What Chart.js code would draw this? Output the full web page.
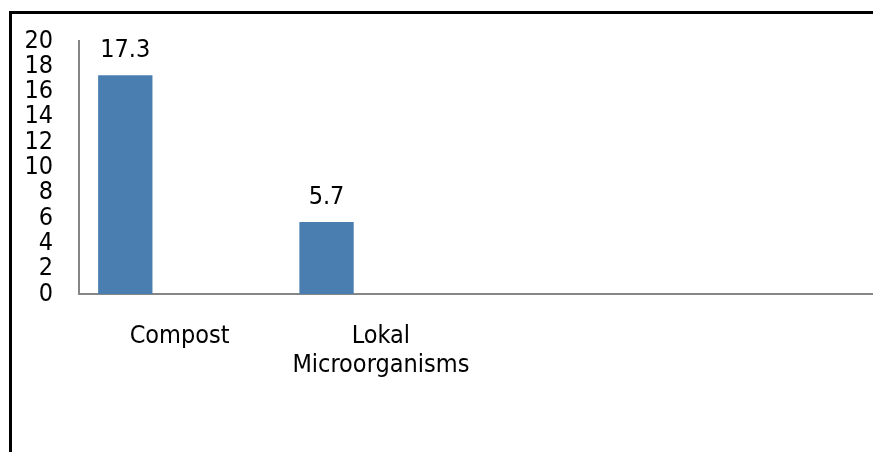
<!DOCTYPE html>
<html>
<head>
<meta charset="utf-8">
<script src="https://cdn.jsdelivr.net/npm/chart.js@4/dist/chart.umd.min.js"></script>
<style>
  html, body { margin: 0; padding: 0; background: #fff; overflow: hidden; width: 873px; height: 452px; }
  #frame { position: absolute; left: 9px; top: 11px; width: 1000px; height: 1000px;
           border-left: 3px solid #000; border-top: 3px solid #000; box-sizing: border-box; }
  #wrap { position: absolute; left: 0; top: 0; width: 884px; height: 452px; }
</style>
</head>
<body>
<div id="frame"></div>
<div id="wrap"><canvas id="chart" width="884" height="452"></canvas></div>
<script>
// Categories along the x axis (multi-line label as an array)
const categories = ["Compost", ["Lokal", "Microorganisms"], "", ""];
// Three series per category; only the first one carries values
const seriesA = [17.3, 5.7, null, null];
const seriesB = [null, null, null, null];
const seriesC = [null, null, null, null];
// Y axis range
const yMin = 0;
const yMax = 20;
const yStep = 2;

const FONT = "'DejaVu Sans Condensed', 'DejaVu Sans', sans-serif";
const FONT_SIZE = 25;
const BAR_COLOR = "#4A7EB1";
const AXIS_COLOR = "#868686";

// Writes each bar's value above it
const valueLabels = {
  id: "valueLabels",
  afterDatasetsDraw(chart) {
    const ctx = chart.ctx;
    const meta = chart.getDatasetMeta(0);
    ctx.save();
    ctx.font = FONT_SIZE + "px " + FONT;
    ctx.fillStyle = "#000";
    ctx.textAlign = "center";
    ctx.textBaseline = "alphabetic";
    meta.data.forEach((bar, i) => {
      const v = chart.data.datasets[0].data[i];
      if (v === null || v === undefined) return;
      ctx.fillText(v.toFixed(1), bar.x, bar.y - 18);
    });
    ctx.restore();
  }
};

new Chart(document.getElementById("chart"), {
  type: "bar",
  data: {
    labels: categories,
    datasets: [
      { label: "Series 1", data: seriesA, backgroundColor: BAR_COLOR, borderWidth: 0 },
      { label: "Series 2", data: seriesB, backgroundColor: BAR_COLOR, borderWidth: 0 },
      { label: "Series 3", data: seriesC, backgroundColor: BAR_COLOR, borderWidth: 0 }
    ]
  },
  options: {
    responsive: false,
    animation: false,
    devicePixelRatio: 1,
    layout: { padding: { left: 0, right: 0, top: 41, bottom: 0 } },
    datasets: { bar: { categoryPercentage: 0.81, barPercentage: 1.0 } },
    plugins: { legend: { display: false }, tooltip: { enabled: false }, title: { display: false } },
    scales: {
      x: {
        grid: { display: false, drawTicks: false },
        border: { display: true, color: AXIS_COLOR, width: 2 },
        ticks: {
          color: "#000", font: { family: FONT, size: FONT_SIZE, lineHeight: 1.16 }, padding: 28,
          maxRotation: 0, minRotation: 0, autoSkip: false
        },
        afterFit(scale) { scale.height = 452 - 294; }
      },
      y: {
        min: yMin, max: yMax,
        grid: { display: false, drawTicks: false },
        border: { display: true, color: AXIS_COLOR, width: 2 },
        ticks: {
          stepSize: yStep, autoSkip: false, color: "#000",
          font: { family: FONT, size: FONT_SIZE }, padding: 26
        },
        afterFit(scale) { scale.width = 79; }
      }
    }
  },
  plugins: [valueLabels]
});
</script>
</body>
</html>
